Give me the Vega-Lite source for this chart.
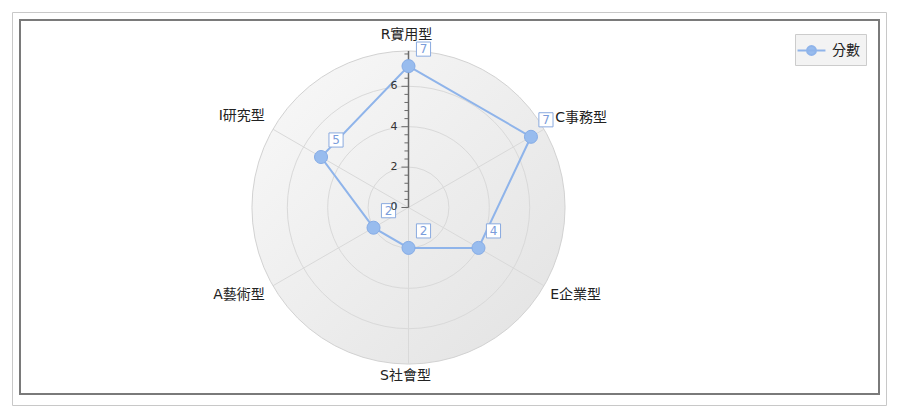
{
  "$schema": "https://vega.github.io/schema/vega-lite/v6.json",
  "width": 859,
  "height": 374,
  "autosize": {"type": "none"},
  "padding": {"left": 20, "top": 20, "right": 21, "bottom": 13},
  "background": "white",
  "config": {
    "view": {"stroke": "#7a7a7a", "strokeWidth": 2},
    "font": "DejaVu Sans, Noto Sans CJK TC"
  },
  "datasets": {
    "scores": [
      {"cat": "R實用型", "idx": 0, "score": 7, "series": "分數"},
      {"cat": "C事務型", "idx": 1, "score": 7, "series": "分數"},
      {"cat": "E企業型", "idx": 2, "score": 4, "series": "分數"},
      {"cat": "S社會型", "idx": 3, "score": 2, "series": "分數"},
      {"cat": "A藝術型", "idx": 4, "score": 2, "series": "分數"},
      {"cat": "I研究型", "idx": 5, "score": 5, "series": "分數"}
    ],
    "grid": [{"r": 2}, {"r": 4}, {"r": 6}, {"r": 7.75}],
    "major": [{"v": 0}, {"v": 2}, {"v": 4}, {"v": 6}],
    "minor": [{"v": 0.4}, {"v": 0.8}, {"v": 1.2}, {"v": 1.6}, {"v": 2.4}, {"v": 2.8}, {"v": 3.2}, {"v": 3.6}, {"v": 4.4}, {"v": 4.8}, {"v": 5.2}, {"v": 5.6}, {"v": 6.4}, {"v": 6.8}, {"v": 7.2}, {"v": 7.6}],
    "axisline": [{"v": 0, "v2": 7.75}]
  },
  "layer": [
    {
      "data": {"values": [{"x0": -19.604, "x1": 23.663, "y0": 9.653, "y1": -9.802}]},
      "mark": {"type": "rect", "filled": false, "stroke": "#c8c8c8", "strokeWidth": 1},
      "encoding": {
        "x": {"field": "x0", "type": "quantitative", "scale": {"domain": [-19.2327, 23.2921], "nice": false, "zero": false}, "axis": null},
        "x2": {"field": "x1"},
        "y": {"field": "y0", "type": "quantitative", "scale": {"domain": [-9.2327, 9.2822], "nice": false, "zero": false}, "axis": null},
        "y2": {"field": "y1"}
      }
    },
    {
      "data": {"name": "grid"},
      "transform": [{"filter": "datum.r > 7"}, {"calculate": "0", "as": "c"}],
      "mark": {"type": "point", "shape": "circle", "filled": true, "opacity": 1, "fillOpacity": 1, "stroke": "#d2d2d2", "strokeWidth": 1,
        "fill": {"gradient": "linear", "x1": 0, "y1": 0, "x2": 1, "y2": 1, "stops": [{"offset": 0, "color": "#f9f9f9"}, {"offset": 1, "color": "#e2e2e2"}]}},
      "encoding": {
        "x": {"field": "c", "type": "quantitative", "scale": {"domain": [-19.2327, 23.2921], "nice": false, "zero": false}, "axis": null},
        "y": {"field": "c", "type": "quantitative", "scale": {"domain": [-9.2327, 9.2822], "nice": false, "zero": false}, "axis": null},
        "size": {"field": "r", "type": "quantitative", "scale": {"type": "pow", "exponent": 2, "domain": [0, 10], "range": [0, 163216], "zero": true}, "legend": null}
      }
    },
    {
      "data": {"name": "grid"},
      "transform": [{"filter": "datum.r < 7"}, {"calculate": "0", "as": "c"}],
      "mark": {"type": "point", "shape": "circle", "filled": false, "opacity": 1, "stroke": "#d9d9d9", "strokeWidth": 1},
      "encoding": {
        "x": {"field": "c", "type": "quantitative", "scale": {"domain": [-19.2327, 23.2921], "nice": false, "zero": false}, "axis": null},
        "y": {"field": "c", "type": "quantitative", "scale": {"domain": [-9.2327, 9.2822], "nice": false, "zero": false}, "axis": null},
        "size": {"field": "r", "type": "quantitative", "scale": {"type": "pow", "exponent": 2, "domain": [0, 10], "range": [0, 163216], "zero": true}, "legend": null}
      }
    },
    {
      "data": {"name": "scores"},
      "transform": [
        {"calculate": "datum.idx*PI/3", "as": "a"},
        {"calculate": "0", "as": "c"},
        {"calculate": "7.75*sin(datum.a)", "as": "sx"},
        {"calculate": "7.75*cos(datum.a)", "as": "sy"}
      ],
      "mark": {"type": "rule", "stroke": "#d9d9d9", "strokeWidth": 1},
      "encoding": {
        "x": {"field": "c", "type": "quantitative", "scale": {"domain": [-19.2327, 23.2921], "nice": false, "zero": false}, "axis": null},
        "y": {"field": "c", "type": "quantitative", "scale": {"domain": [-9.2327, 9.2822], "nice": false, "zero": false}, "axis": null},
        "x2": {"field": "sx"},
        "y2": {"field": "sy"}
      }
    },
    {
      "data": {"name": "axisline"},
      "transform": [{"calculate": "0", "as": "c"}],
      "mark": {"type": "rule", "stroke": "#6a6a6a", "strokeWidth": 1.5},
      "encoding": {
        "x": {"field": "c", "type": "quantitative", "scale": {"domain": [-19.2327, 23.2921], "nice": false, "zero": false}, "axis": null},
        "y": {"field": "v", "type": "quantitative", "scale": {"domain": [-9.2327, 9.2822], "nice": false, "zero": false}, "axis": null},
        "y2": {"field": "v2"}
      }
    },
    {
      "data": {"name": "major"},
      "transform": [{"calculate": "0", "as": "c"}, {"calculate": "-0.35", "as": "t"}],
      "mark": {"type": "rule", "stroke": "#6a6a6a", "strokeWidth": 1},
      "encoding": {
        "x": {"field": "c", "type": "quantitative", "scale": {"domain": [-19.2327, 23.2921], "nice": false, "zero": false}, "axis": null},
        "x2": {"field": "t"},
        "y": {"field": "v", "type": "quantitative", "scale": {"domain": [-9.2327, 9.2822], "nice": false, "zero": false}, "axis": null}
      }
    },
    {
      "data": {"name": "minor"},
      "transform": [{"calculate": "0", "as": "c"}, {"calculate": "-0.2", "as": "t"}],
      "mark": {"type": "rule", "stroke": "#6a6a6a", "strokeWidth": 1},
      "encoding": {
        "x": {"field": "c", "type": "quantitative", "scale": {"domain": [-19.2327, 23.2921], "nice": false, "zero": false}, "axis": null},
        "x2": {"field": "t"},
        "y": {"field": "v", "type": "quantitative", "scale": {"domain": [-9.2327, 9.2822], "nice": false, "zero": false}, "axis": null}
      }
    },
    {
      "data": {"name": "scores"},
      "transform": [
        {"calculate": "datum.idx*PI/3", "as": "a"},
        {"calculate": "datum.score*sin(datum.a)", "as": "px"},
        {"calculate": "datum.score*cos(datum.a)", "as": "py"}
      ],
      "mark": {"type": "line", "interpolate": "linear-closed", "stroke": "#8fb4ea", "strokeWidth": 2},
      "encoding": {
        "x": {"field": "px", "type": "quantitative", "scale": {"domain": [-19.2327, 23.2921], "nice": false, "zero": false}, "axis": null},
        "y": {"field": "py", "type": "quantitative", "scale": {"domain": [-9.2327, 9.2822], "nice": false, "zero": false}, "axis": null},
        "order": {"field": "idx", "type": "quantitative"}
      }
    },
    {
      "data": {"name": "scores"},
      "transform": [
        {"calculate": "datum.idx*PI/3", "as": "a"},
        {"calculate": "datum.score*sin(datum.a)", "as": "px"},
        {"calculate": "datum.score*cos(datum.a)", "as": "py"}
      ],
      "mark": {"type": "point", "shape": "circle", "filled": true, "opacity": 1, "size": 170, "stroke": "#86ace6", "strokeWidth": 1},
      "encoding": {
        "x": {"field": "px", "type": "quantitative", "scale": {"domain": [-19.2327, 23.2921], "nice": false, "zero": false}, "axis": null},
        "y": {"field": "py", "type": "quantitative", "scale": {"domain": [-9.2327, 9.2822], "nice": false, "zero": false}, "axis": null},
        "color": {"field": "series", "type": "nominal", "scale": {"range": ["#98bcee"]},
          "legend": {"title": null, "orient": "none", "legendX": 775, "legendY": 14, "padding": 6,
            "fillColor": "#f3f3f3", "strokeColor": "#cccccc",
            "symbolType": "M-1.5,0H1.5M-0.48,0A0.48,0.48,0,1,1,0.48,0A0.48,0.48,0,1,1,-0.48,0Z",
            "symbolSize": 346, "symbolStrokeColor": "#8fb4ea", "symbolStrokeWidth": 2, "symbolFillColor": "#98bcee",
            "symbolOpacity": 1,
            "labelFontSize": 14, "labelFont": "Noto Sans CJK TC", "labelColor": "#222222", "labelOffset": 10}}
      }
    },
    {
      "data": {"name": "scores"},
      "transform": [
        {"calculate": "datum.idx*PI/3", "as": "a"},
        {"calculate": "datum.score*sin(datum.a)", "as": "px"},
        {"calculate": "datum.score*cos(datum.a)", "as": "py"}
      ],
      "mark": {"type": "point", "shape": "square", "filled": true, "fill": "white", "fillOpacity": 1, "opacity": 1, "size": 200, "stroke": "#8aaadf", "strokeWidth": 1, "xOffset": 15, "yOffset": -17},
      "encoding": {
        "x": {"field": "px", "type": "quantitative", "scale": {"domain": [-19.2327, 23.2921], "nice": false, "zero": false}, "axis": null},
        "y": {"field": "py", "type": "quantitative", "scale": {"domain": [-9.2327, 9.2822], "nice": false, "zero": false}, "axis": null}
      }
    },
    {
      "data": {"name": "scores"},
      "transform": [
        {"calculate": "datum.idx*PI/3", "as": "a"},
        {"calculate": "datum.score*sin(datum.a)", "as": "px"},
        {"calculate": "datum.score*cos(datum.a)", "as": "py"}
      ],
      "mark": {"type": "text", "align": "center", "baseline": "middle", "dx": 15, "dy": -17, "fontSize": 12, "color": "#7b9ddb"},
      "encoding": {
        "x": {"field": "px", "type": "quantitative", "scale": {"domain": [-19.2327, 23.2921], "nice": false, "zero": false}, "axis": null},
        "y": {"field": "py", "type": "quantitative", "scale": {"domain": [-9.2327, 9.2822], "nice": false, "zero": false}, "axis": null},
        "text": {"field": "score", "type": "quantitative"}
      }
    },
    {
      "data": {"name": "major"},
      "transform": [{"calculate": "0", "as": "c"}],
      "mark": {"type": "text", "align": "right", "baseline": "middle", "dx": -11, "fontSize": 11, "color": "#333333"},
      "encoding": {
        "x": {"field": "c", "type": "quantitative", "scale": {"domain": [-19.2327, 23.2921], "nice": false, "zero": false}, "axis": null},
        "y": {"field": "v", "type": "quantitative", "scale": {"domain": [-9.2327, 9.2822], "nice": false, "zero": false}, "axis": null},
        "text": {"field": "v", "type": "quantitative"}
      }
    },
    {
      "data": {"name": "scores"},
      "transform": [
        {"filter": "datum.idx == 0"},
        {"calculate": "datum.idx*PI/3", "as": "a"},
        {"calculate": "8.5*sin(datum.a)", "as": "lx"},
        {"calculate": "8.5*cos(datum.a)", "as": "ly"}
      ],
      "mark": {"type": "text", "align": "center", "baseline": "middle", "dx": -2, "dy": -1, "fontSize": 14, "color": "#222222"},
      "encoding": {
        "x": {"field": "lx", "type": "quantitative", "scale": {"domain": [-19.2327, 23.2921], "nice": false, "zero": false}, "axis": null},
        "y": {"field": "ly", "type": "quantitative", "scale": {"domain": [-9.2327, 9.2822], "nice": false, "zero": false}, "axis": null},
        "text": {"field": "cat", "type": "nominal"}
      }
    },
    {
      "data": {"name": "scores"},
      "transform": [
        {"filter": "datum.idx == 1"},
        {"calculate": "datum.idx*PI/3", "as": "a"},
        {"calculate": "8.5*sin(datum.a)", "as": "lx"},
        {"calculate": "8.5*cos(datum.a)", "as": "ly"}
      ],
      "mark": {"type": "text", "align": "left", "baseline": "middle", "dx": -2, "dy": -4, "fontSize": 14, "color": "#222222"},
      "encoding": {
        "x": {"field": "lx", "type": "quantitative", "scale": {"domain": [-19.2327, 23.2921], "nice": false, "zero": false}, "axis": null},
        "y": {"field": "ly", "type": "quantitative", "scale": {"domain": [-9.2327, 9.2822], "nice": false, "zero": false}, "axis": null},
        "text": {"field": "cat", "type": "nominal"}
      }
    },
    {
      "data": {"name": "scores"},
      "transform": [
        {"filter": "datum.idx == 2"},
        {"calculate": "datum.idx*PI/3", "as": "a"},
        {"calculate": "8.5*sin(datum.a)", "as": "lx"},
        {"calculate": "8.5*cos(datum.a)", "as": "ly"}
      ],
      "mark": {"type": "text", "align": "left", "baseline": "middle", "dx": -7, "dy": 2, "fontSize": 14, "color": "#222222"},
      "encoding": {
        "x": {"field": "lx", "type": "quantitative", "scale": {"domain": [-19.2327, 23.2921], "nice": false, "zero": false}, "axis": null},
        "y": {"field": "ly", "type": "quantitative", "scale": {"domain": [-9.2327, 9.2822], "nice": false, "zero": false}, "axis": null},
        "text": {"field": "cat", "type": "nominal"}
      }
    },
    {
      "data": {"name": "scores"},
      "transform": [
        {"filter": "datum.idx == 3"},
        {"calculate": "datum.idx*PI/3", "as": "a"},
        {"calculate": "8.5*sin(datum.a)", "as": "lx"},
        {"calculate": "8.5*cos(datum.a)", "as": "ly"}
      ],
      "mark": {"type": "text", "align": "center", "baseline": "middle", "dx": -3, "dy": -3, "fontSize": 14, "color": "#222222"},
      "encoding": {
        "x": {"field": "lx", "type": "quantitative", "scale": {"domain": [-19.2327, 23.2921], "nice": false, "zero": false}, "axis": null},
        "y": {"field": "ly", "type": "quantitative", "scale": {"domain": [-9.2327, 9.2822], "nice": false, "zero": false}, "axis": null},
        "text": {"field": "cat", "type": "nominal"}
      }
    },
    {
      "data": {"name": "scores"},
      "transform": [
        {"filter": "datum.idx == 4"},
        {"calculate": "datum.idx*PI/3", "as": "a"},
        {"calculate": "8.5*sin(datum.a)", "as": "lx"},
        {"calculate": "8.5*cos(datum.a)", "as": "ly"}
      ],
      "mark": {"type": "text", "align": "right", "baseline": "middle", "dx": 5, "dy": 2, "fontSize": 14, "color": "#222222"},
      "encoding": {
        "x": {"field": "lx", "type": "quantitative", "scale": {"domain": [-19.2327, 23.2921], "nice": false, "zero": false}, "axis": null},
        "y": {"field": "ly", "type": "quantitative", "scale": {"domain": [-9.2327, 9.2822], "nice": false, "zero": false}, "axis": null},
        "text": {"field": "cat", "type": "nominal"}
      }
    },
    {
      "data": {"name": "scores"},
      "transform": [
        {"filter": "datum.idx == 5"},
        {"calculate": "datum.idx*PI/3", "as": "a"},
        {"calculate": "8.5*sin(datum.a)", "as": "lx"},
        {"calculate": "8.5*cos(datum.a)", "as": "ly"}
      ],
      "mark": {"type": "text", "align": "right", "baseline": "middle", "dx": 5, "dy": -6, "fontSize": 14, "color": "#222222"},
      "encoding": {
        "x": {"field": "lx", "type": "quantitative", "scale": {"domain": [-19.2327, 23.2921], "nice": false, "zero": false}, "axis": null},
        "y": {"field": "ly", "type": "quantitative", "scale": {"domain": [-9.2327, 9.2822], "nice": false, "zero": false}, "axis": null},
        "text": {"field": "cat", "type": "nominal"}
      }
    }
  ]
}
